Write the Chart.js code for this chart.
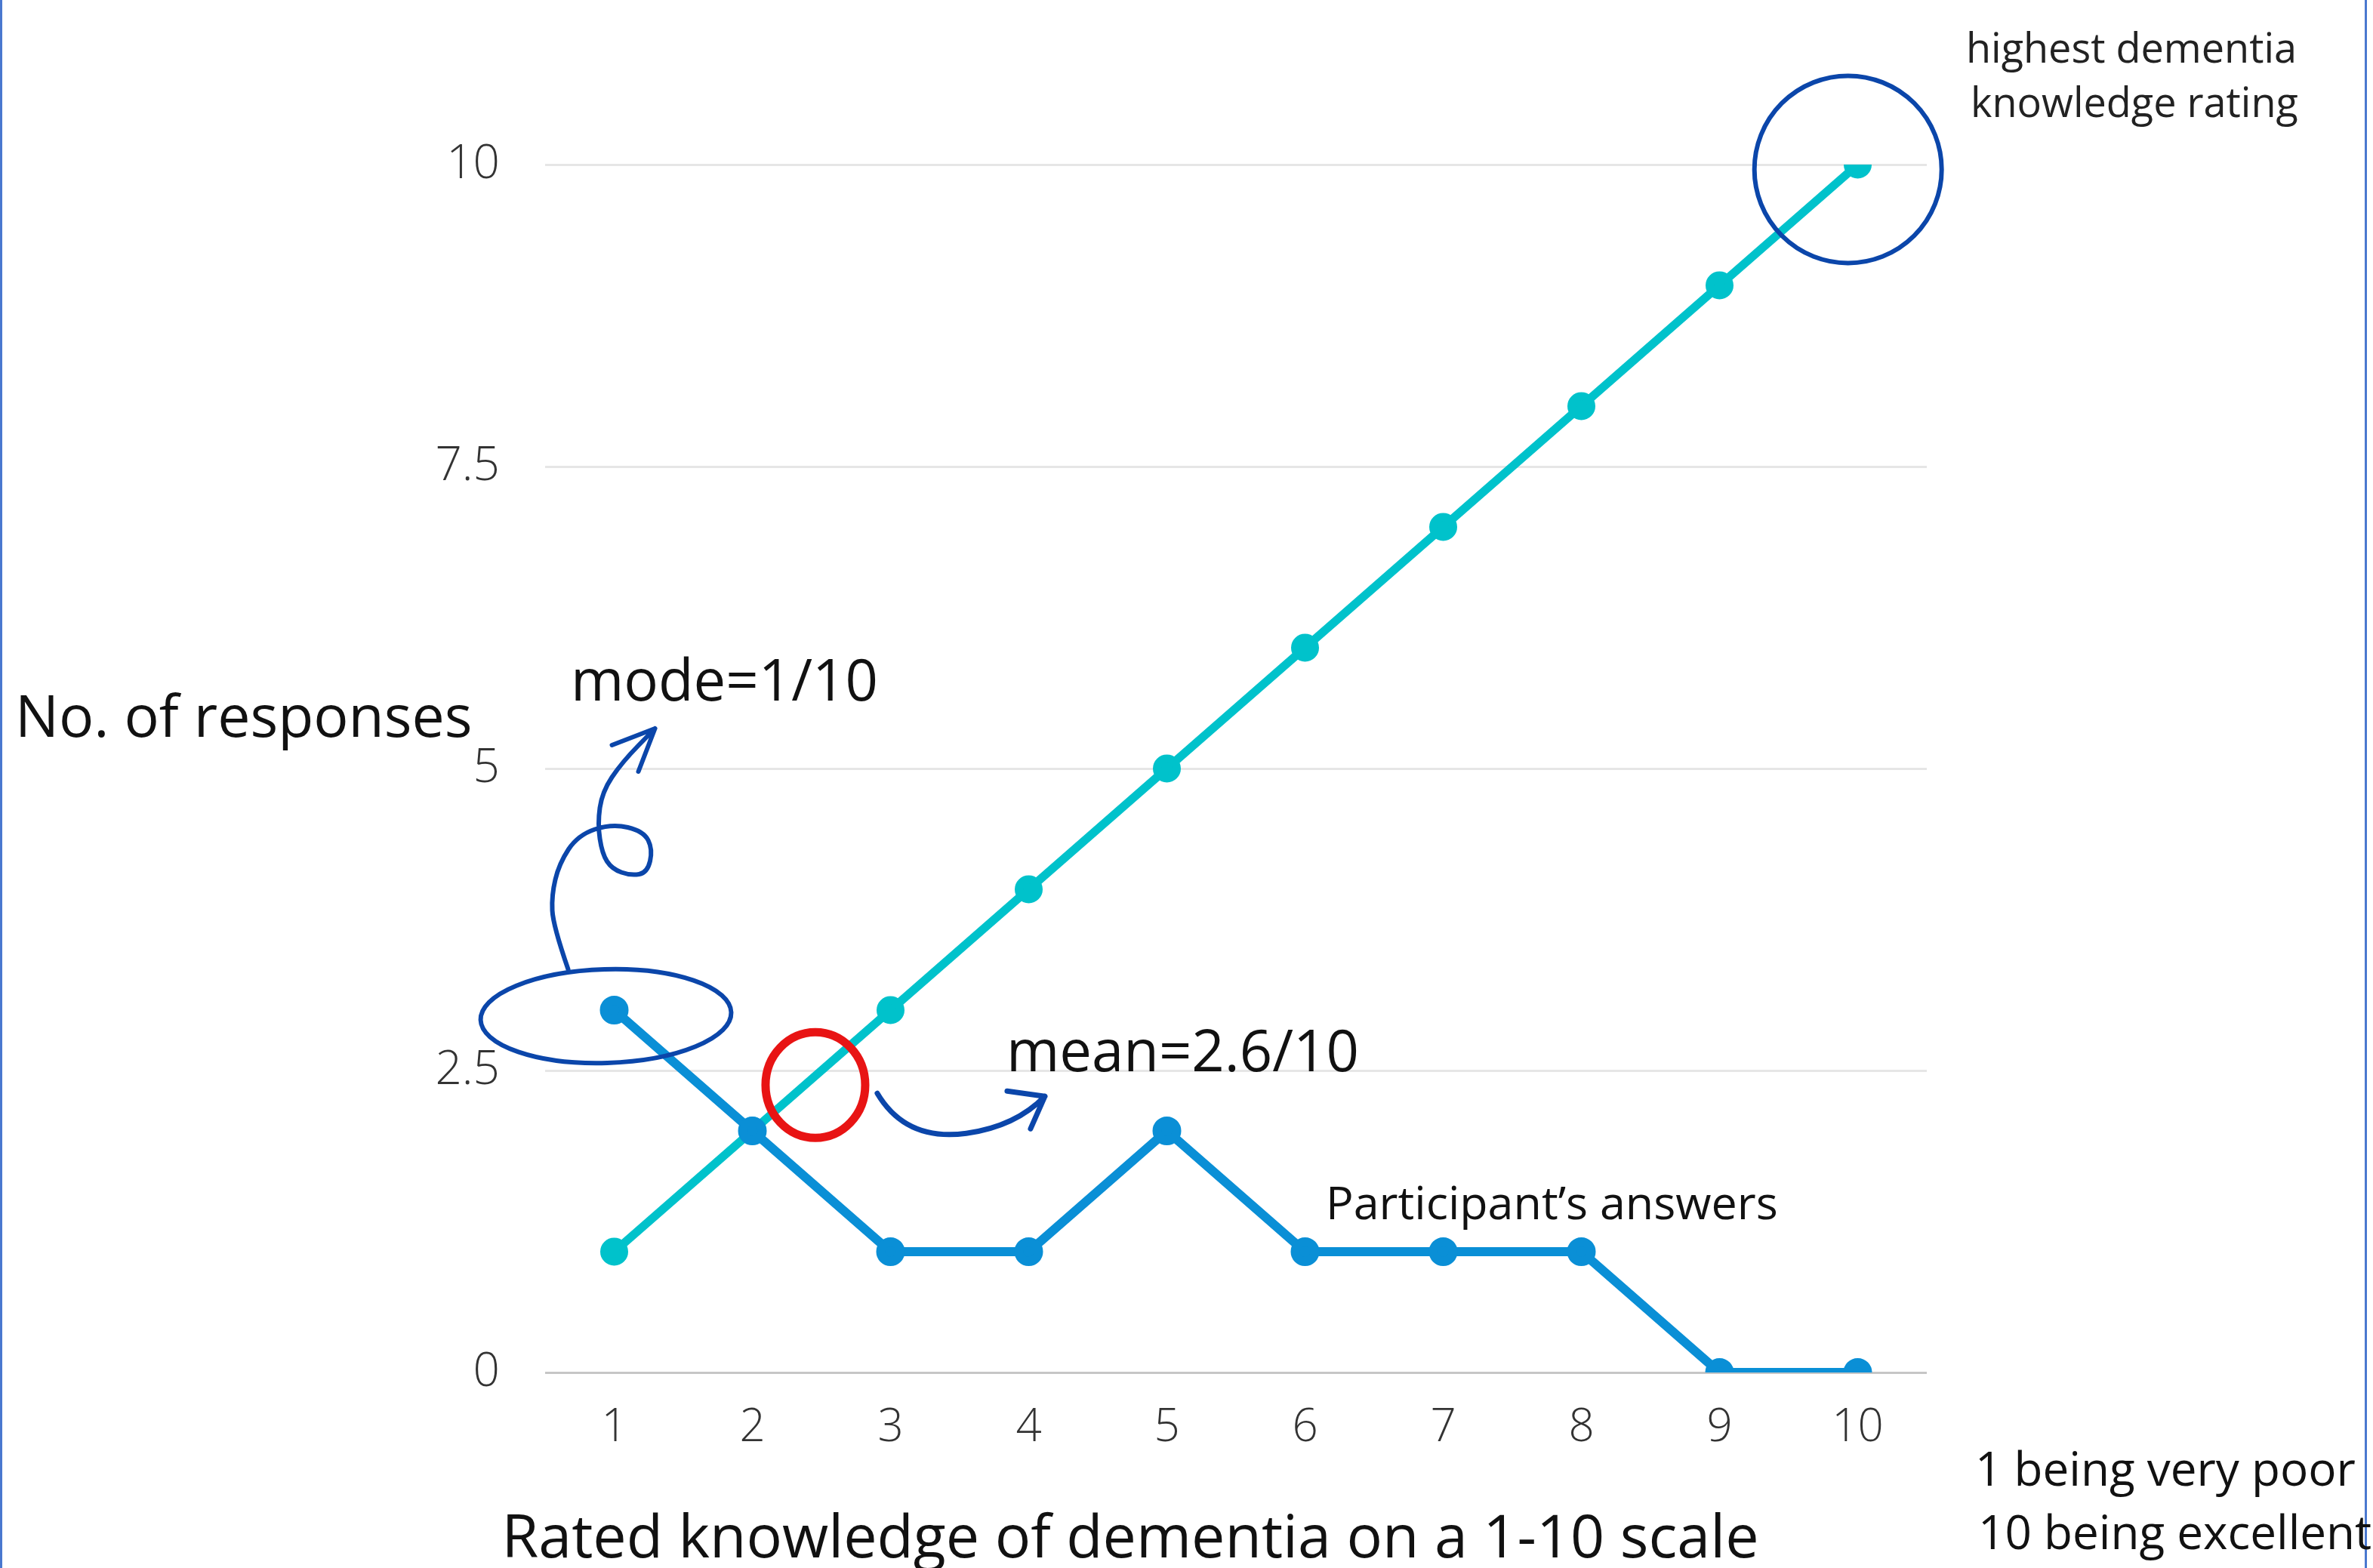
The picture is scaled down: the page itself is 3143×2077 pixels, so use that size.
<!DOCTYPE html>
<html>
<head>
<meta charset="utf-8">
<script src="https://cdn.jsdelivr.net/npm/chart.js@4.4.1/dist/chart.umd.min.js"></script>
<style>
  html, body { margin: 0; padding: 0; background: #fff; }
  #wrap { width: 3143px; height: 2077px; position: relative; }
</style>
</head>
<body>
<div id="wrap"><canvas id="knowledgeChart"></canvas></div>
<script>
let ratings = ["1", "2", "3", "4", "5", "6", "7", "8", "9", "10"],
  participantAnswers = [3, 2, 1, 1, 2, 1, 1, 1, 0, 0],
  ratingScale = [1, 2, 3, 4, 5, 6, 7, 8, 9, 10],
  yTicks = [0, 2.5, 5, 7.5, 10];

const FONT = "'Open Sans', 'Noto Sans', sans-serif";
const INK = "#111";
const PEN = "#0B46AA";

// hand-drawn notes on top of the chart
let notesPlugin = {
  id: "notes",
  afterDraw(chart) {
    let ctx = chart.ctx,
      x = chart.scales.x,
      y = chart.scales.y;
    ctx.save();

    // frame lines left/right
    ctx.strokeStyle = "#4A78CF";
    ctx.lineWidth = 3;
    ctx.beginPath();
    ctx.moveTo(1.5, 0);
    ctx.lineTo(1.5, chart.height);
    ctx.moveTo(3133.5, 0);
    ctx.lineTo(3133.5, chart.height);
    ctx.stroke();

    ctx.lineCap = "round";
    ctx.lineJoin = "round";

    // circle around top rating
    ctx.strokeStyle = PEN;
    ctx.lineWidth = 6;
    ctx.beginPath();
    ctx.arc(x.getPixelForValue(8.93), y.getPixelForValue(9.96), 124, 0, Math.PI * 2);
    ctx.stroke();

    // ellipse around mode
    let mx = x.getPixelForValue(-0.06),
      my = y.getPixelForValue(2.95);
    ctx.beginPath();
    ctx.ellipse(mx, my, 166, 62, -0.03, 0, Math.PI * 2);
    ctx.stroke();

    // curly arrow up to "mode"
    let curl = [
      [-50, -62], [-70, -120], [-72, -160], [-62, -202], [-37, -240],
      [8, -255], [50, -245], [62, -221], [55, -190], [33, -186],
      [8, -195], [-5, -215], [-11, -255], [-5, -297], [21, -336], [65, -381],
    ];
    ctx.beginPath();
    ctx.moveTo(mx + curl[0][0], my + curl[0][1]);
    for (let i = 1; i < curl.length - 1; i++) {
      let cx = mx + curl[i][0], cy = my + curl[i][1];
      let nx = mx + (curl[i][0] + curl[i + 1][0]) / 2, ny = my + (curl[i][1] + curl[i + 1][1]) / 2;
      ctx.quadraticCurveTo(cx, cy, nx, ny);
    }
    let tip = curl[curl.length - 1];
    ctx.lineTo(mx + tip[0], my + tip[1]);
    ctx.moveTo(mx + 8, my - 359);
    ctx.lineTo(mx + tip[0], my + tip[1]);
    ctx.lineTo(mx + 43, my - 324);
    ctx.stroke();

    // red circle on the mean
    let rx = x.getPixelForValue(1.456),
      ry = y.getPixelForValue(2.38);
    ctx.strokeStyle = "#E81414";
    ctx.lineWidth = 11;
    ctx.beginPath();
    ctx.ellipse(rx, ry, 66, 70, 0, 0, Math.PI * 2);
    ctx.stroke();

    // arrow to "mean"
    ctx.strokeStyle = PEN;
    ctx.lineWidth = 7;
    ctx.beginPath();
    ctx.moveTo(rx + 82, ry + 11);
    ctx.quadraticCurveTo(rx + 120, ry + 75, rx + 200, ry + 64);
    ctx.quadraticCurveTo(rx + 265, ry + 55, rx + 304, ry + 15);
    ctx.moveTo(rx + 254, ry + 8);
    ctx.lineTo(rx + 304, ry + 15);
    ctx.lineTo(rx + 285, ry + 58);
    ctx.stroke();

    // texts
    ctx.fillStyle = INK;
    ctx.textBaseline = "middle";
    ctx.textAlign = "left";
    ctx.font = "77px " + FONT;
    ctx.fillText("No. of responses", 20, 954);
    ctx.font = "76px " + FONT;
    ctx.fillText("mode=1/10", 756, 906);
    ctx.fillText("mean=2.6/10", 1333, 1397);
    ctx.font = "61px " + FONT;
    ctx.fillText("Participant\u2019s answers", 1756, 1598);
    ctx.font = "62px " + FONT;
    ctx.fillText("1 being very poor", 2616, 1950);
    ctx.fillText("10 being excellent", 2620, 2034);
    ctx.textAlign = "center";
    ctx.font = "79px " + FONT;
    ctx.fillText("Rated knowledge of dementia on a 1-10 scale", 1497, 2040);
    ctx.fillStyle = "#222";
    ctx.font = "54px " + FONT;
    ctx.fillText("highest dementia", 2823, 68);
    ctx.fillText("knowledge rating", 2827, 140);
    ctx.restore();
  },
};

new Chart(document.getElementById("knowledgeChart"), {
  type: "line",
  data: {
    labels: ratings,
    datasets: [
      {
        label: "Participant's answers",
        data: participantAnswers,
        borderColor: "#0A8FD6",
        backgroundColor: "#0A8FD6",
        borderWidth: 12,
        pointRadius: 13,
        pointHoverRadius: 13,
        tension: 0,
      },
      {
        label: "Rating scale",
        data: ratingScale,
        borderColor: "#00C2CB",
        backgroundColor: "#00C2CB",
        borderWidth: 11,
        pointRadius: 13,
        pointHoverRadius: 13,
        tension: 0,
      },
    ],
  },
  options: {
    responsive: true,
    maintainAspectRatio: false,
    animation: false,
    layout: { padding: { left: 522, right: 591, top: 218, bottom: 0 } },
    plugins: {
      legend: { display: false },
      tooltip: { enabled: false },
    },
    scales: {
      x: {
        offset: true,
        grid: { display: false },
        border: { display: false },
        ticks: {
          padding: 30,
          color: "#333",
          font: { family: FONT, size: 60, weight: 300 },
        },
        afterFit: (s) => { s.height = 259; },
      },
      y: {
        min: 0,
        max: 10,
        afterBuildTicks: (s) => { s.ticks = yTicks.map((v) => ({ value: v })); },
        grid: {
          drawTicks: false,
          lineWidth: 3,
          color: (c) => (c.tick && c.tick.value === 0 ? "#C6C6C6" : "#E6E6E6"),
        },
        border: { display: false },
        ticks: {
          padding: 60,
          color: "#333",
          font: { family: FONT, size: 62, weight: 300 },
        },
        afterFit: (s) => { s.width = 200; },
      },
    },
  },
  plugins: [notesPlugin],
});
</script>
</body>
</html>
